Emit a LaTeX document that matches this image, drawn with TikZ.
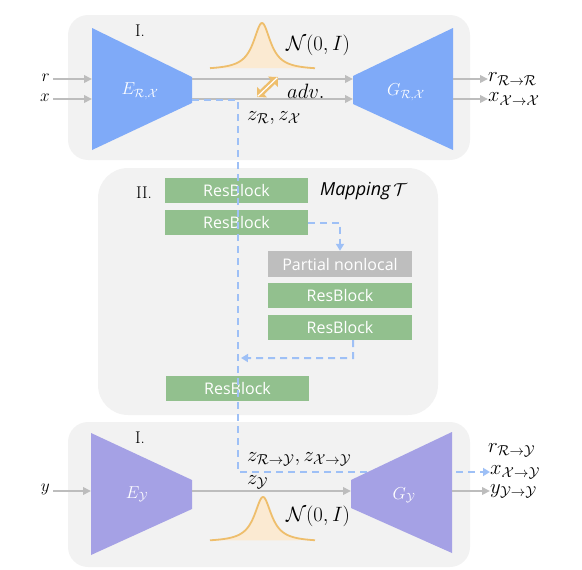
\documentclass[tikz,border=0pt]{standalone}
\usepackage{fontspec}
\newfontfamily\osans{Open Sans}
\usetikzlibrary{arrows.meta}
\definecolor{panelbg}{HTML}{F2F2F2}
\definecolor{encblue}{HTML}{7FAAF8}
\definecolor{encpurple}{HTML}{A5A1E5}
\definecolor{rbgreen}{HTML}{92C08E}
\definecolor{pngray}{HTML}{BEBEBE}
\definecolor{arrowgray}{HTML}{BDBDBD}
\definecolor{dashblue}{HTML}{9EC0F6}
\definecolor{gaussline}{HTML}{EEBE6C}
\definecolor{gaussfill}{HTML}{FBEAD2}
\tikzset{
  panel/.style={fill=panelbg},
  garrow/.style={draw=arrowgray, line width=2pt, -{Triangle[length=8pt,width=7.5pt]}},
  dashb/.style={draw=dashblue, line width=2pt, dash pattern=on 7pt off 5pt},
  dtip/.style={-{Triangle[length=7pt,width=8pt]}},
  rb/.style={fill=rbgreen, text=white, minimum width=143pt, minimum height=25pt, inner sep=0pt, font=\osans\fontsize{16}{19}\selectfont},
  pnode/.style={fill=pngray, text=white, minimum width=144pt, minimum height=26pt, inner sep=0pt, font=\osans\fontsize{16}{19}\selectfont},
  mlab/.style={inner sep=0pt, font=\fontsize{21}{24}\selectfont},
  nlab/.style={inner sep=0pt, font=\fontsize{22}{25}\selectfont},
  slab/.style={inner sep=0pt, font=\fontsize{19}{22}\selectfont},
  wlab/.style={inner sep=0pt, text=white, font=\fontsize{18}{21}\selectfont},
  rlab/.style={inner sep=0pt, font=\fontsize{17}{20}\selectfont},
  gcurve/.style={draw=gaussline, line width=1.8pt},
}
\begin{document}
\begin{tikzpicture}[x=1pt,y=-1pt]
\useasboundingbox (0,0) rectangle (582,570);
% panels
\fill[panel, rounded corners=20pt] (68,15) rectangle (470,160);
\fill[panel, rounded corners=30pt] (98,168) rectangle (438,415);
\fill[panel, rounded corners=20pt] (68,422) rectangle (470,567);

% ---------- top panel ----------
\node[rlab] (I1) at (140,31) {I.};
% gaussian top
\fill[gaussfill] plot[domain=-52:53,samples=120] ({262+\x},{70-47/(1+(\x/10.5)^2)}) -- cycle;
\draw[gcurve] plot[domain=-52:53,samples=120] ({262+\x},{70-47/(1+(\x/10.5)^2)});
\node[nlab] (N1) at (318,45) {$\mathcal{N}(0,I)$};
% encoder / generator
\coordinate (E1a) at (92,28); \coordinate (E1b) at (192,77);
\coordinate (E1c) at (192,103); \coordinate (E1d) at (92,150);
\fill[encblue] (E1a) -- (E1b) -- (E1c) -- (E1d) -- cycle;
\coordinate (G1a) at (353,76); \coordinate (G1b) at (453,28);
\coordinate (G1c) at (453,150); \coordinate (G1d) at (353,104);
\fill[encblue] (G1a) -- (G1b) -- (G1c) -- (G1d) -- cycle;
\node[wlab] (E1) at (140,91) {$E_{\mathcal{R},\mathcal{X}}$};
\node[wlab] (G1) at (406,92) {$G_{\mathcal{R},\mathcal{X}}$};
% inputs
\node[slab, anchor=east] (rin) at (50,78) {$r$};
\node[slab, anchor=east] (xin) at (50,98) {$x$};
\coordinate (Er) at (92,79); \coordinate (Ex) at (92,99);
\draw[garrow] (rin.east |- Er) ++(3,0) -- (Er);
\draw[garrow] (xin.east |- Ex) ++(3,0) -- (Ex);
% middle arrows
\coordinate (Eor) at (192,79); \coordinate (Eox) at (192,99);
\coordinate (Gir) at (353,79); \coordinate (Gix) at (353,99);
\draw[garrow] (Eor) -- (Gir);
\draw[garrow] (Eox) -- (Gix);
% outputs
\coordinate (Gor) at (453,79); \coordinate (Gox) at (453,99);
\node[mlab, anchor=west] (rout) at (488,79) {$r_{\mathcal{R}\rightarrow\mathcal{R}}$};
\node[mlab, anchor=west] (xout) at (488,99) {$x_{\mathcal{X}\rightarrow\mathcal{X}}$};
\draw[garrow] (Gor) -- (rout.west |- Gor);
\draw[garrow] (Gox) -- (xout.west |- Gox);
% adversarial
\coordinate (adva) at (257,97); \coordinate (advb) at (278,77);
\draw[draw=gaussline, line width=6pt, {Triangle[length=7pt,width=14pt]}-{Triangle[length=7pt,width=14pt]}] (adva) -- (advb);
\draw[draw=white, line width=1.2pt, shorten <=1pt, shorten >=1pt] (adva) -- (advb);
\node[mlab, anchor=west] (adv) at (287,91) {$adv.$};
\node[mlab, anchor=west] (zrx) at (247,118) {$z_{\mathcal{R}}, z_{\mathcal{X}}$};

% ---------- mapping panel ----------
\node[rlab] (II) at (144,193) {II.};
\node[rb] (rb1) at (236.5,190.5) {ResBlock};
\node[rb] (rb2) at (236.5,222.5) {ResBlock};
\node[pnode] (pn) at (340,264) {Partial nonlocal};
\node[rb, minimum width=144pt] (rb3) at (340,295.5) {ResBlock};
\node[rb, minimum width=144pt] (rb4) at (340,327.5) {ResBlock};
\node[rb] (rb5) at (237.5,388) {ResBlock};
\node[inner sep=0pt, anchor=west, font=\osans\itshape\fontsize{18}{21}\selectfont] (map) at (320,191) {Mapping\,$\mathcal{T}$};

% dashed connectors
\coordinate (dz0) at (192,100);
\coordinate (dz1) at (238,100);
\coordinate (dz2) at (238,472);
\coordinate (merge) at (241,358);
\node[mlab, anchor=west] (xoy) at (490,472) {$x_{\mathcal{X}\rightarrow\mathcal{Y}}$};
\draw[dashb, dtip] (dz0) -- (dz1) -- (dz2) -- (xoy.west |- dz2);
\draw[dashb, dtip] (rb2.east) -| (pn.north);
\draw[dashb, dtip] ([xshift=13pt]rb4.south) -- ++(0,18) -- (merge);

% ---------- bottom panel ----------
\node[rlab] (I2) at (140,438) {I.};
\fill[gaussfill] plot[domain=-53:52,samples=120] ({263+\x},{542-45/(1+(\x/10.5)^2)}) -- cycle;
\draw[gcurve] plot[domain=-53:52,samples=120] ({263+\x},{542-45/(1+(\x/10.5)^2)});
\node[nlab] (N2) at (318,516) {$\mathcal{N}(0,I)$};
\coordinate (E2a) at (91,433); \coordinate (E2b) at (192,480);
\coordinate (E2c) at (192,509); \coordinate (E2d) at (91,555);
\fill[encpurple] (E2a) -- (E2b) -- (E2c) -- (E2d) -- cycle;
\coordinate (G2a) at (351,480); \coordinate (G2b) at (452,432);
\coordinate (G2c) at (452,553); \coordinate (G2d) at (351,508);
\fill[encpurple] (G2a) -- (G2b) -- (G2c) -- (G2d) -- cycle;
\node[wlab] (E2) at (137,494) {$E_{\mathcal{Y}}$};
\node[wlab] (G2) at (404,495) {$G_{\mathcal{Y}}$};
\node[slab, anchor=east] (yin) at (50,489) {$y$};
\coordinate (Ey) at (91,491);
\draw[garrow] (yin.east |- Ey) ++(3,0) -- (Ey);
\coordinate (Eoy) at (192,491); \coordinate (Giy) at (351,491);
\draw[garrow] (Eoy) -- (Giy);
\coordinate (Goy) at (452,491);
\node[mlab, anchor=west] (yout) at (490,491) {$y_{\mathcal{Y}\rightarrow\mathcal{Y}}$};
\node[mlab, anchor=west] (rout2) at (488,450) {$r_{\mathcal{R}\rightarrow\mathcal{Y}}$};
\draw[garrow] (Goy) -- (yout.west |- Goy);
\node[mlab, anchor=west] (zmap) at (247,459) {$z_{\mathcal{R}\rightarrow\mathcal{Y}}, z_{\mathcal{X}\rightarrow\mathcal{Y}}$};
\node[mlab, anchor=west] (zy) at (247,482) {$z_{\mathcal{Y}}$};
\end{tikzpicture}
\end{document}
